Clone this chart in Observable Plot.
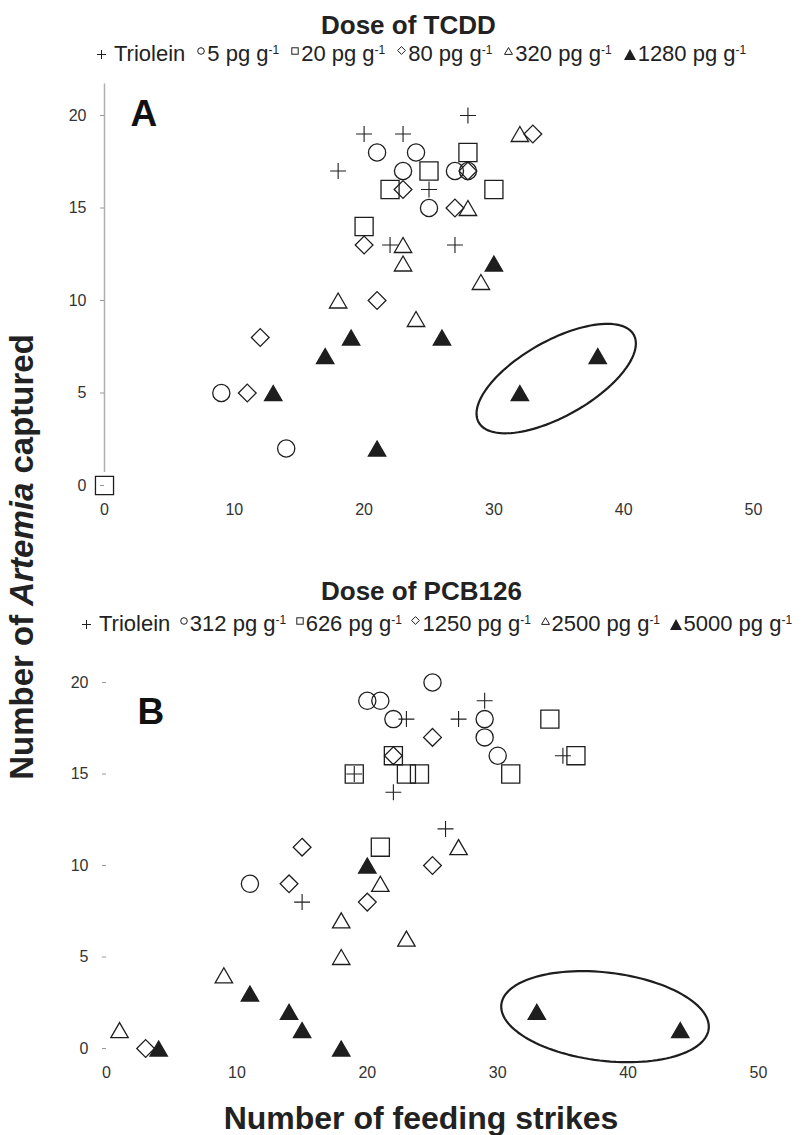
<!DOCTYPE html>
<html><head><meta charset="utf-8">
<script src="https://cdn.jsdelivr.net/npm/d3@7"></script>
<script src="https://cdn.jsdelivr.net/npm/@observablehq/plot@0.6"></script>
<style>
body{margin:0;background:#fff;overflow:hidden}
#wrap{position:relative;width:806px;height:1135px;overflow:hidden;font-family:"Liberation Sans",Arial,sans-serif;color:#222}
.abs{position:absolute}
.title{font-weight:bold;font-size:26px;line-height:26px;white-space:nowrap}
.legend{font-size:22px;line-height:22px;white-space:nowrap}
.legend .item{display:inline-block}
.legend svg{display:inline-block;margin-right:2px}
.legend sup{font-size:12px;line-height:0;vertical-align:7.5px}
.axtitle{font-weight:bold;font-size:32px;line-height:32px;white-space:nowrap}
</style></head>
<body><div id="wrap"></div>
<script>
// ---------- data ----------
const xTicks = [0, 10, 20, 30, 40, 50];
const yTicks = [0, 5, 10, 15, 20];

// Panel A — Dose of TCDD  [feeding strikes, Artemia captured]
const A_triolein = [[18,17],[20,19],[23,19],[28,20],[25,16],[22,13],[27,13]];
const A_5    = [[21,18],[24,18],[23,17],[27,17],[28,17],[25,15],[9,5],[14,2]];
const A_20   = [[0,0],[20,14],[22,16],[25,17],[28,18],[30,16]];
const A_80   = [[33,19],[23,16],[28,17],[27,15],[20,13],[21,10],[12,8],[11,5]];
const A_320  = [[32,19],[28,15],[23,13],[23,12],[29,11],[18,10],[24,9]];
const A_1280 = [[30,12],[26,8],[19,8],[17,7],[13,5],[21,2],[32,5],[38,7]];

// Panel B — Dose of PCB126
const B_triolein = [[23,18],[22,14],[29,19],[27,18],[35,16],[26,12],[15,8],[19,15]];
const B_312  = [[20,19],[21,19],[22,18],[25,20],[29,18],[29,17],[30,16],[11,9]];
const B_626  = [[19,15],[22,16],[23,15],[24,15],[21,11],[34,18],[36,16],[31,15]];
const B_1250 = [[22,16],[25,17],[15,11],[14,9],[20,8],[25,10],[3,0]];
const B_2500 = [[27,11],[21,9],[18,7],[23,6],[18,5],[9,4],[1,1]];
const B_5000 = [[20,10],[11,3],[14,2],[15,1],[18,0],[4,0],[33,2],[44,1]];

const titleA = "Dose of TCDD";
const titleB = "Dose of PCB126";
const dosesA = ["5", "20", "80", "320", "1280"];
const dosesB = ["312", "626", "1250", "2500", "5000"];
const controlLabel = "Triolein";
const unit = "pg g";
const xTitle = "Number of feeding strikes";

// circled outlier groups: centre and the two semi-axis vectors (data units)
const ellipseA = {cx: 34.8, cy: 5.78, ax: 5.97, ay: 2.37, bx: 1.43, by: -1.77};
const ellipseB = {cx: 38.23, cy: 1.74, ax: 7.95, ay: -0.672, bx: -0.403, by: -2.396};
const axisLineA = [0.7, 21.7];

// ---------- styling ----------
const INK = "#1e1e1e";
const styles = [
  {symbol: "plus", r: 5.2, fill: "none", sw: 1.1},
  {symbol: "circle", r: 8.6, fill: "none"},
  {symbol: "square", r: 10.2, fill: "none"},
  {symbol: "diamond2", r: 8, fill: "none"},
  {symbol: "triangle2", r: 8.3, fill: "none", dy: 2.5},
  {symbol: "triangle2", r: 8.3, fill: INK, dy: 2.5}
];

function ellipsePts(e) {
  return d3.range(0, 361, 3).map(deg => {
    const t = deg * Math.PI / 180;
    return [e.cx + e.ax * Math.cos(t) + e.bx * Math.sin(t), e.cy + e.ay * Math.cos(t) + e.by * Math.sin(t)];
  });
}

function panel(series, ell, label, opts) {
  const marks = [];
  if (opts.axisLine) marks.push(Plot.ruleX([0], {y1: opts.axisLine[0], y2: opts.axisLine[1], stroke: "#b0b0b0", strokeWidth: 1.5}));
  marks.push(Plot.axisY({ticks: yTicks, tickSize: 4, tickPadding: 14, stroke: "#999", color: "#333", label: null}));
  marks.push(Plot.axisX({ticks: xTicks, tickSize: 0, tickPadding: 18.6, color: "#333", label: null}));
  series.forEach((s, i) => {
    const st = styles[i];
    marks.push(Plot.dot(s, {x: d => d[0], y: d => d[1], symbol: st.symbol, r: st.r, fill: st.fill,
      stroke: INK, strokeWidth: st.sw || 1.3, dy: st.dy || 0}));
  });
  marks.push(Plot.line(ellipsePts(ell), {x: d => d[0], y: d => d[1], stroke: INK, strokeWidth: 2.2, curve: "linear"}));
  marks.push(Plot.text([label], {text: d => d, frameAnchor: "top-left", textAnchor: "start", lineAnchor: "middle",
    dx: opts.labelDx, dy: opts.labelDy, fontSize: 37, fontWeight: "bold", fill: "#111"}));
  return Plot.plot({
    width: 806, height: 460,
    marginLeft: opts.ml, marginRight: opts.mr, marginTop: opts.mt, marginBottom: opts.mb,
    x: {domain: [0, 50]},
    y: {domain: [0, 20]},
    style: {fontFamily: "'Liberation Sans', Arial, sans-serif", fontSize: "16px", background: "transparent", color: "#333"},
    marks
  });
}

const wrap = document.getElementById("wrap");
function place(el, left, top) { el.classList.add("abs"); el.style.left = left + "px"; el.style.top = top + "px"; wrap.appendChild(el); return el; }

const pA = panel([A_triolein, A_5, A_20, A_80, A_320, A_1280], ellipseA, "A",
  {ml: 104, mr: 53, mt: 45, mb: 45, axisLine: axisLineA, labelDx: 26, labelDy: -1});
place(pA, 0, 70);
const pB = panel([B_triolein, B_312, B_626, B_1250, B_2500, B_5000], ellipseB, "B",
  {ml: 106, mr: 48, mt: 42, mb: 52, axisLine: null, labelDx: 31, labelDy: 29.5});
place(pB, 0, 640);

// ---------- titles and legends ----------
function div(cls, html) { const d = document.createElement("div"); d.className = cls; d.innerHTML = html; return d; }
place(div("title", titleA), 321, 12);
place(div("title", titleB), 321, 578);

const symSvg = [
  `<svg width="9" height="9" style="vertical-align:2.5px;margin-right:8px"><path d="M0,4.5H9M4.5,0V9" stroke="${INK}" stroke-width="1"/></svg>`,
  `<svg width="8" height="8" style="vertical-align:6.5px"><circle cx="4" cy="4" r="3.3" fill="none" stroke="${INK}" stroke-width="1"/></svg>`,
  `<svg width="8" height="8" style="vertical-align:6.5px"><rect x="0.8" y="0.8" width="6.4" height="6.4" fill="none" stroke="${INK}" stroke-width="1"/></svg>`,
  `<svg width="9" height="9" style="vertical-align:6px"><path d="M4.5,0.6L8.4,4.5L4.5,8.4L0.6,4.5Z" fill="none" stroke="${INK}" stroke-width="1"/></svg>`,
  `<svg width="9" height="8" style="vertical-align:6.5px"><path d="M4.5,0.6L8.5,7.4L0.5,7.4Z" fill="none" stroke="${INK}" stroke-width="1"/></svg>`,
  `<svg width="12" height="11" style="vertical-align:1.5px"><path d="M6,0L12,11L0,11Z" fill="${INK}"/></svg>`
];
function legend(doses, gap) {
  const items = [controlLabel, ...doses.map(d => `${d} ${unit}<sup>-1</sup>`)];
  return items.map((t, i) => `<span class="item" style="margin-right:${i === items.length - 1 ? 0 : gap}px">${symSvg[i]}${t}</span>`).join("");
}
place(div("legend", legend(dosesA, 12)), 97, 43.4);
place(div("legend", legend(dosesB, 9.5)), 82, 613.4);

// ---------- axis titles ----------
const xt = place(div("axtitle", xTitle), 421, 1102);
xt.style.transform = "translateX(-50%)";
const yt = place(div("axtitle", "Number of <i>Artemia</i> captured"), 22, 557);
yt.style.fontSize = "33px";
yt.style.transform = "translate(-50%,-50%) rotate(-90deg)";
</script></body></html>
